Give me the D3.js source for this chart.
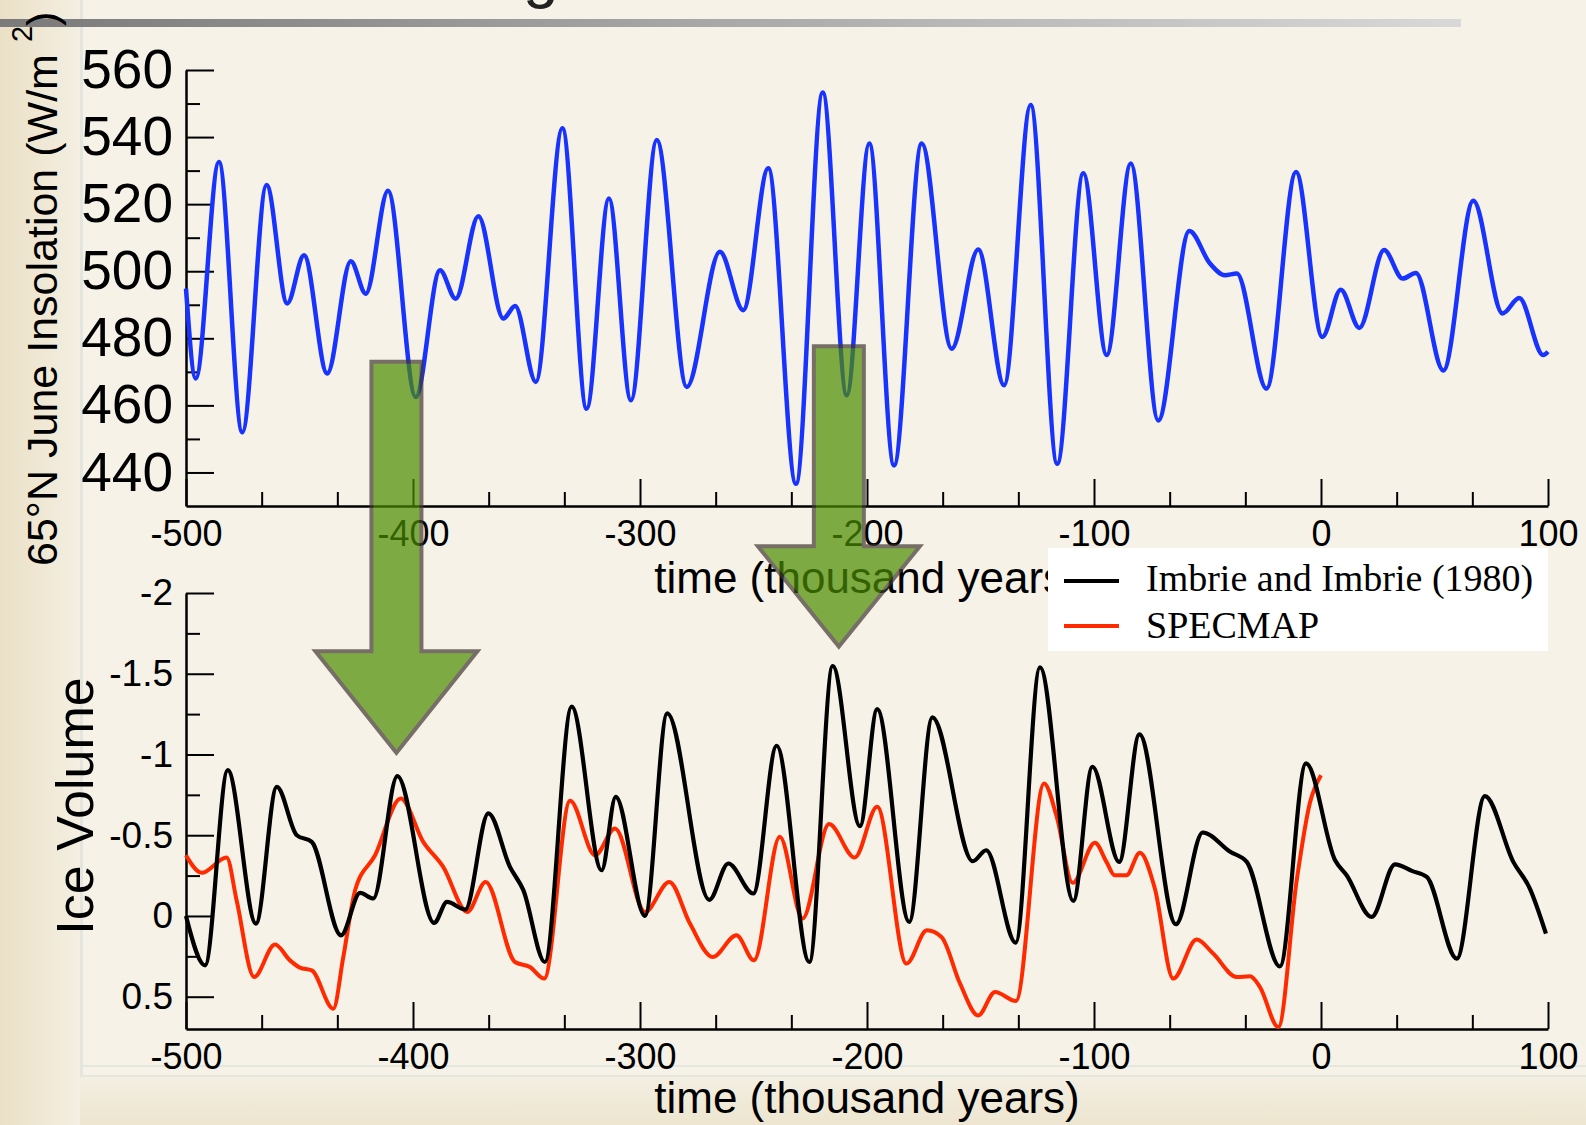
<!doctype html>
<html lang="en">
  <head>
    <meta charset="utf-8">
    <title>Insolation and Ice Volume</title>
    <script src="https://d3js.org/d3.v7.min.js"></script>
    <style>
      body { margin: 0; background: #f6f2e7; }
      svg { display: block; font-family: 'Liberation Sans', Arial, sans-serif; }
    </style>
  </head>
  <body>
    <div class="visual"></div>
    <script>
      // 65N June insolation, [time (kyr), W/m2]
      const insolation = [
        [-500, 494.8], [-495.7, 468], [-485.5, 532.6], [-475.2, 452], [-464.5, 525.7], [-455.4, 490.4],
        [-448, 504.8], [-437.8, 469.5], [-427.4, 503], [-420.8, 493.3], [-411, 524], [-398.8, 462.5],
        [-388.1, 500.3], [-381.2, 491.8], [-371.2, 516.4], [-360.2, 485.9], [-355, 489.6], [-345.9, 467],
        [-334.2, 542.6], [-323.5, 459], [-313.7, 521.7], [-304, 461.5], [-292.6, 539.1], [-279.4, 465.5],
        [-264.8, 505.8], [-254.5, 488.4], [-243.5, 530.7], [-231.3, 436.6], [-219.5, 553.3], [-208.9, 463],
        [-199, 538.1], [-188.1, 442.1], [-175.9, 538.1], [-162.7, 476.9], [-151, 506.5], [-139.6, 466],
        [-127.9, 549.6], [-116.2, 442.6], [-104.7, 529.2], [-94.4, 475], [-83.8, 532.1], [-71.7, 455.5],
        [-58, 512], [-48.9, 502.3], [-42.3, 498.8], [-37.1, 499.3], [-24, 465], [-11, 529.6],
        [0.6, 480.4], [8.7, 494.5], [16.9, 483.1], [27.8, 506.3], [36, 497.8], [41.8, 499.5],
        [53.9, 470.4], [67.1, 521], [80, 487.4], [87.3, 492], [97.9, 475], [100, 476]
      ];

      // Imbrie and Imbrie (1980) ice volume model
      const imbrie = [
        [-500, 0], [-491.6, 0.306], [-481.6, -0.903], [-469.2, 0.047], [-460, -0.8], [-451.2, -0.5],
        [-444.6, -0.459], [-431.7, 0.12], [-423.3, -0.143], [-417.5, -0.108], [-406.9, -0.866], [-390.7, 0.043],
        [-385, -0.087], [-377, -0.04], [-366.8, -0.635], [-357.3, -0.304], [-351.4, -0.16], [-341.9, 0.285],
        [-330.1, -1.296], [-316.9, -0.283], [-310.7, -0.738], [-297.8, 0], [-288, -1.255], [-269.5, -0.1],
        [-261.1, -0.325], [-250.1, -0.139], [-239.8, -1.054], [-225.4, 0.285], [-215.1, -1.548], [-203.1, -0.556],
        [-195.5, -1.281], [-181.4, 0.037], [-171.2, -1.23], [-153.4, -0.339], [-147.5, -0.407], [-134.5, 0.165],
        [-123.8, -1.54], [-109.1, -0.093], [-100.7, -0.924], [-88.9, -0.335], [-80, -1.125], [-63.9, 0.051],
        [-52.1, -0.517], [-40, -0.397], [-32.7, -0.335], [-18.1, 0.312], [-6.6, -0.945], [6.2, -0.345],
        [11.3, -0.252], [22.3, 0.006], [32.6, -0.32], [40, -0.279], [46.6, -0.242], [59.8, 0.264],
        [72.2, -0.742], [84.7, -0.335], [92, -0.17], [99.1, 0.109]
      ];

      // SPECMAP stack
      const specmap = [
        [-500, -0.376], [-493.1, -0.267], [-482.1, -0.362], [-477.7, -0.097], [-470, 0.378], [-460.8, 0.177],
        [-454.2, 0.275], [-449.8, 0.32], [-444.6, 0.337], [-435.1, 0.574], [-430.7, 0.254], [-425.5, -0.159],
        [-416.7, -0.376], [-405.4, -0.728], [-395.5, -0.459], [-386.7, -0.304], [-376.1, -0.025], [-368, -0.211],
        [-355.1, 0.285], [-348.5, 0.316], [-342.2, 0.388], [-330.8, -0.713], [-319.8, -0.376], [-311, -0.542],
        [-297.8, -0.025], [-287.1, -0.211], [-278, 0.047], [-268, 0.254], [-257.5, 0.12], [-249.8, 0.275],
        [-238.4, -0.49], [-228.4, 0.016], [-216.7, -0.569], [-205.4, -0.362], [-195.5, -0.676], [-182.6, 0.295],
        [-173.6, 0.089], [-167.2, 0.13], [-159, 0.419], [-151, 0.616], [-143.6, 0.471], [-134.4, 0.527],
        [-122, -0.821], [-116.4, -0.614], [-109.4, -0.205], [-99.6, -0.453], [-94.5, -0.335], [-90.9, -0.252],
        [-85.7, -0.252], [-79.8, -0.391], [-73.2, -0.17], [-65.1, 0.388], [-54.8, 0.146], [-47.5, 0.233],
        [-37.2, 0.378], [-31.3, 0.374], [-26.9, 0.44], [-18.8, 0.688], [-10.7, -0.221], [-4.9, -0.7], [0, -0.872]
      ];

      const timeTicks = [-500, -400, -300, -200, -100, 0, 100];
      const insolTicks = [440, 460, 480, 500, 520, 540, 560];
      const insolMinor = [450, 470, 490, 510, 530, 550];
      const iceTicks = [-2, -1.5, -1, -0.5, 0, 0.5];
      const iceMinor = [-1.75, -1.25, -0.75, -0.25, 0.25];
      const legendLabels = ['Imbrie and Imbrie (1980)', 'SPECMAP'];
      // arrows: time, shaft top (insolation units), head base and tip (ice units)
      const arrows = [
        { t: -407.3, top: 473, base: -1.64, tip: -1.01 },
        { t: -212.4, top: 477.6, base: -2.29, tip: -1.668 }
      ];

      const w = 1586;
      const h = 1125;
      const font = "'Liberation Sans', Arial, sans-serif";

      const svg = d3.select('.visual')
        .append('svg')
        .attr('width', w)
        .attr('height', h);

      const defs = svg.append('defs');
      const grad = (id, x2, y2, c1, c2) => {
        const g = defs.append('linearGradient').attr('id', id)
          .attr('x1', 0).attr('y1', 0).attr('x2', x2).attr('y2', y2);
        g.append('stop').attr('offset', '0%').attr('stop-color', c1);
        g.append('stop').attr('offset', '100%').attr('stop-color', c2);
      };
      grad('leftShade', 1, 0, '#eae0c6', '#f4efe2');
      grad('bottomShade', 0, 1, '#f3efe2', '#ede5cf');
      grad('barShade', 1, 0, '#7a7a7a', '#d8d8d8');

      // slide background
      svg.append('rect').attr('width', w).attr('height', h).attr('fill', '#f6f2e7');
      svg.append('rect').attr('x', 0).attr('y', 1076).attr('width', w).attr('height', h - 1076)
        .attr('fill', 'url(#bottomShade)');
      svg.append('rect').attr('x', 0).attr('y', 0).attr('width', 80).attr('height', h)
        .attr('fill', 'url(#leftShade)');
      svg.append('line').attr('x1', 81.5).attr('x2', 81.5).attr('y1', 0).attr('y2', 1077)
        .attr('stroke', '#e3e6de').attr('stroke-width', 3);
      [1066, 1076].forEach(yy => {
        svg.append('line').attr('x1', 81).attr('x2', w).attr('y1', yy).attr('y2', yy)
          .attr('stroke', '#e5e6dd').attr('stroke-width', 2);
      });
      svg.append('rect').attr('x', 0).attr('y', 19).attr('width', 1461).attr('height', 8)
        .attr('fill', 'url(#barShade)');
      // descender of the slide title, cut off at the top edge
      svg.append('text').attr('x', 523).attr('y', -4).attr('font-size', 64).attr('fill', '#222').text('g');

      // scales
      const x = d3.scaleLinear().domain([-500, 100]).range([186, 1548]);
      const yTop = d3.scaleLinear().domain([430, 560]).range([506, 70]);
      const yBot = d3.scaleLinear().domain([0.7, -2]).range([1029, 593]);
      const timeMinor = d3.range(-500, 100.01, 100 / 3).filter(v => Math.abs(v % 100) > 1);
      const plain = d => String(d);

      const styleAxis = (g, size) => {
        g.attr('font-family', font);
        g.select('.domain').attr('stroke', '#000').attr('stroke-width', 2.5);
        g.selectAll('.tick line').attr('stroke', '#000').attr('stroke-width', 2);
        g.selectAll('.tick text').attr('font-size', size).attr('fill', '#000');
      };

      const drawPanel = (yScale, yAxisY, major, minor, ySize) => {
        const gx = svg.append('g').attr('transform', 'translate(0,' + yAxisY + ')');
        gx.append('g')
          .call(d3.axisBottom(x).tickValues(timeMinor).tickSize(-14).tickFormat('').tickSizeOuter(0))
          .call(g => g.select('.domain').remove())
          .call(g => styleAxis(g, 36));
        gx.append('g')
          .call(d3.axisBottom(x).tickValues(timeTicks).tickSize(-27).tickPadding(14).tickFormat(plain).tickSizeOuter(0))
          .call(g => styleAxis(g, 36));

        const gy = svg.append('g').attr('transform', 'translate(' + x(-500) + ',0)');
        gy.append('g')
          .call(d3.axisLeft(yScale).tickValues(minor).tickSize(-14).tickFormat('').tickSizeOuter(0))
          .call(g => g.select('.domain').remove())
          .call(g => styleAxis(g, ySize));
        gy.append('g')
          .call(d3.axisLeft(yScale).tickValues(major).tickSize(-28).tickPadding(13).tickFormat(plain).tickSizeOuter(0))
          .call(g => styleAxis(g, ySize));
      };

      drawPanel(yTop, 506, insolTicks, insolMinor, 55);
      drawPanel(yBot, 1029, iceTicks, iceMinor, 37);

      // curves
      const topLine = d3.line().x(d => x(d[0])).y(d => yTop(d[1])).curve(d3.curveMonotoneX);
      const botLine = d3.line().x(d => x(d[0])).y(d => yBot(d[1])).curve(d3.curveMonotoneX);

      svg.append('path').datum(insolation).attr('d', topLine)
        .attr('fill', 'none').attr('stroke', '#1933ff').attr('stroke-width', 4.5).attr('stroke-linejoin', 'round');
      svg.append('path').datum(specmap).attr('d', botLine)
        .attr('fill', 'none').attr('stroke', '#ff2a00').attr('stroke-width', 4).attr('stroke-linejoin', 'round');
      svg.append('path').datum(imbrie).attr('d', botLine)
        .attr('fill', 'none').attr('stroke', '#000').attr('stroke-width', 4.2).attr('stroke-linejoin', 'round');

      // axis titles
      [593, 1113].forEach(yy => {
        svg.append('text').attr('x', 867).attr('y', yy).attr('text-anchor', 'middle')
          .attr('font-size', 44).text('time (thousand years)');
      });

      const yLab = svg.append('text').attr('transform', 'translate(57,566) rotate(-90)')
        .attr('font-size', 43);
      yLab.append('tspan').text('65°N June Insolation (W/m');
      yLab.append('tspan').attr('dx', 12).attr('dy', -25).attr('font-size', 29).text('2');
      yLab.append('tspan').attr('dy', 25).text(')');

      svg.append('text').attr('transform', 'translate(93,806) rotate(-90)')
        .attr('text-anchor', 'middle').attr('font-size', 52).text('Ice Volume');

      // legend
      const legend = svg.append('g').attr('transform', 'translate(1048,548)');
      legend.append('rect').attr('width', 500).attr('height', 103).attr('fill', '#fff');
      legendLabels.forEach((label, i) => {
        legend.append('line').attr('x1', 16).attr('x2', 71).attr('y1', 33 + i * 45).attr('y2', 33 + i * 45)
          .attr('stroke', i ? '#ff2a00' : '#000').attr('stroke-width', 4);
        legend.append('text').attr('x', 98).attr('y', 43 + i * 47)
          .attr('font-family', "'Liberation Serif', 'Times New Roman', serif")
          .attr('font-size', 38).text(label);
      });

      // green arrows
      const arrowPath = a => {
        const cx = x(a.t), s = 25, hw = 81;
        const top = yTop(a.top), base = yBot(a.base), tip = yBot(a.tip);
        return 'M' + (cx - s) + ',' + top + 'H' + (cx + s) + 'V' + base + 'H' + (cx + hw) +
          'L' + cx + ',' + tip + 'L' + (cx - hw) + ',' + base + 'H' + (cx - s) + 'Z';
      };
      svg.append('g').attr('opacity', 0.7)
        .selectAll('path')
        .data(arrows)
        .enter().append('path')
        .attr('d', arrowPath)
        .attr('fill', '#4c8c00')
        .attr('stroke', '#423932')
        .attr('stroke-width', 4)
        .attr('stroke-linejoin', 'miter');
    </script>
  </body>
</html>
